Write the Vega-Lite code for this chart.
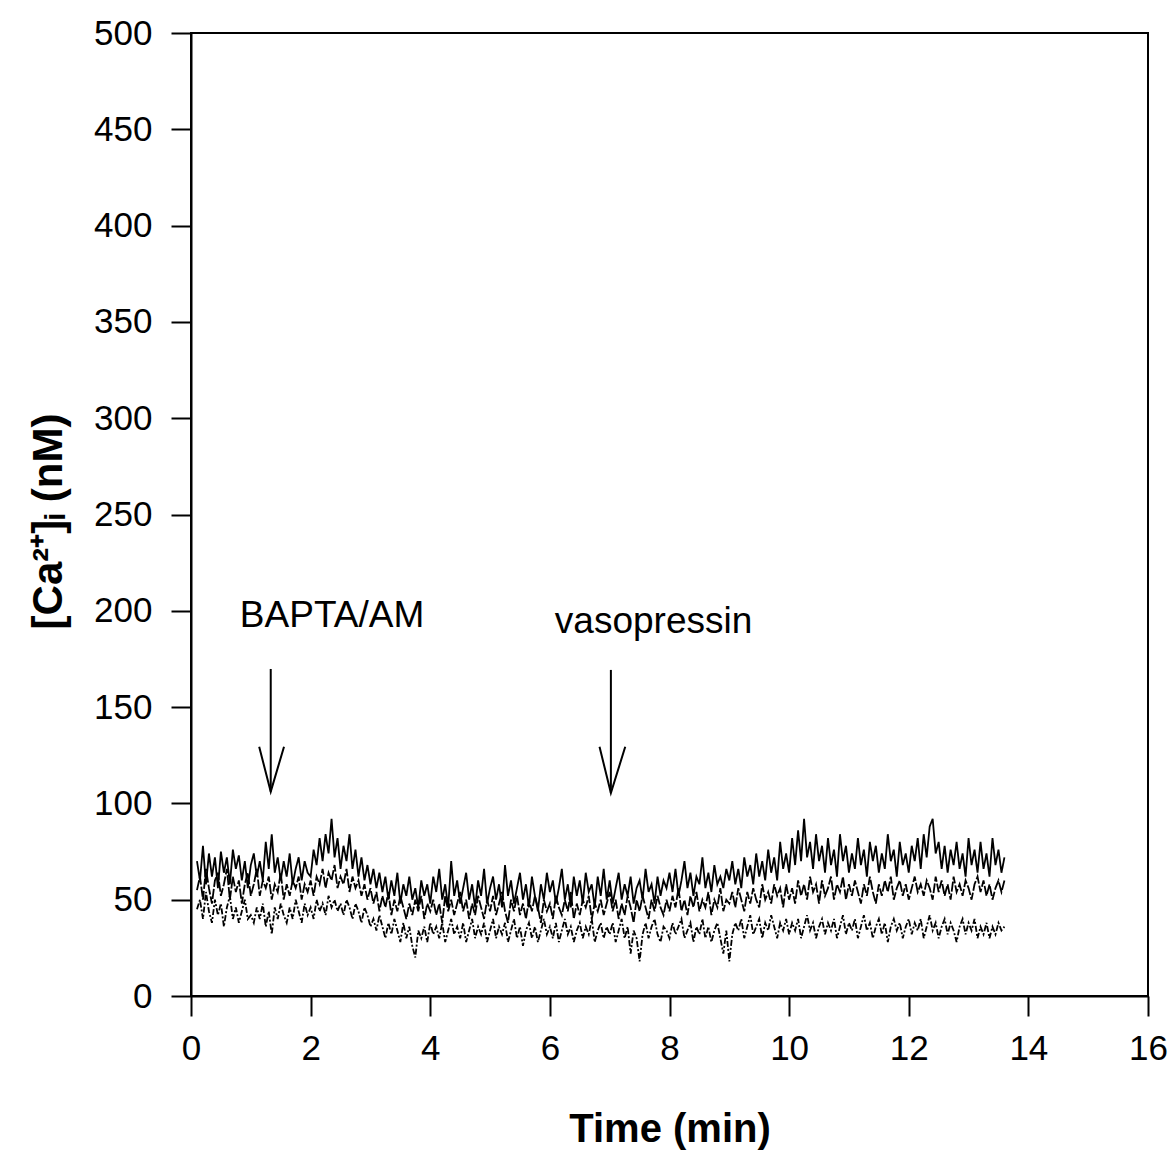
{
  "$schema": "https://vega.github.io/schema/vega-lite/v6.json",
  "width": 957,
  "height": 963,
  "autosize": {"type": "none"},
  "padding": {"left": 191, "top": 33, "right": 27, "bottom": 156},
  "background": "white",
  "config": {
    "view": {"stroke": "black", "strokeWidth": 2},
    "axis": {
      "grid": false,
      "domainColor": "black",
      "domainWidth": 2,
      "tickColor": "black",
      "tickWidth": 2,
      "tickSize": 20,
      "labelFont": "Liberation Sans",
      "labelFontSize": 35,
      "labelColor": "black",
      "labelFlush": false,
      "labelOverlap": false,
      "titleFont": "Liberation Sans",
      "titleFontSize": 40,
      "titleFontWeight": "bold",
      "titleColor": "black"
    }
  },
  "datasets": {
    "traces": [
      {"t":0.10,"a":70,"b":55,"c":45},{"t":0.15,"a":60,"b":62,"c":50},{"t":0.20,"a":78,"b":50,"c":40},{"t":0.25,"a":58,"b":66,"c":54},{"t":0.30,"a":74,"b":56,"c":44},
      {"t":0.35,"a":62,"b":48,"c":38},{"t":0.40,"a":72,"b":60,"c":50},{"t":0.45,"a":56,"b":64,"c":42},{"t":0.50,"a":75,"b":52,"c":48},{"t":0.55,"a":64,"b":58,"c":36},
      {"t":0.60,"a":72,"b":66,"c":46},{"t":0.65,"a":58,"b":50,"c":52},{"t":0.70,"a":76,"b":62,"c":40},{"t":0.75,"a":66,"b":54,"c":46},{"t":0.80,"a":73,"b":60,"c":38},
      {"t":0.85,"a":60,"b":48,"c":44},{"t":0.90,"a":70,"b":58,"c":50},{"t":0.95,"a":56,"b":64,"c":40},{"t":1.00,"a":68,"b":52,"c":42},{"t":1.05,"a":74,"b":58,"c":38},
      {"t":1.10,"a":62,"b":66,"c":46},{"t":1.15,"a":70,"b":52,"c":40},{"t":1.20,"a":60,"b":60,"c":48},{"t":1.25,"a":80,"b":56,"c":36},{"t":1.30,"a":66,"b":62,"c":44},
      {"t":1.35,"a":84,"b":50,"c":32},{"t":1.40,"a":64,"b":58,"c":46},{"t":1.45,"a":72,"b":54,"c":40},{"t":1.50,"a":60,"b":64,"c":48},{"t":1.55,"a":70,"b":50,"c":42},
      {"t":1.60,"a":62,"b":58,"c":38},{"t":1.65,"a":74,"b":52,"c":46},{"t":1.70,"a":58,"b":60,"c":40},{"t":1.75,"a":66,"b":56,"c":50},{"t":1.80,"a":72,"b":62,"c":44},
      {"t":1.85,"a":60,"b":50,"c":38},{"t":1.90,"a":70,"b":58,"c":48},{"t":1.95,"a":64,"b":54,"c":42},{"t":2.00,"a":62,"b":60,"c":46},{"t":2.05,"a":76,"b":52,"c":40},
      {"t":2.10,"a":68,"b":62,"c":50},{"t":2.15,"a":82,"b":58,"c":44},{"t":2.20,"a":70,"b":66,"c":48},{"t":2.25,"a":84,"b":56,"c":42},{"t":2.30,"a":74,"b":64,"c":52},
      {"t":2.35,"a":92,"b":60,"c":46},{"t":2.40,"a":72,"b":68,"c":50},{"t":2.45,"a":82,"b":56,"c":44},{"t":2.50,"a":66,"b":62,"c":48},{"t":2.55,"a":78,"b":58,"c":42},
      {"t":2.60,"a":70,"b":66,"c":50},{"t":2.65,"a":84,"b":54,"c":46},{"t":2.70,"a":66,"b":62,"c":40},{"t":2.75,"a":76,"b":56,"c":48},{"t":2.80,"a":62,"b":60,"c":44},
      {"t":2.85,"a":72,"b":52,"c":38},{"t":2.90,"a":60,"b":58,"c":46},{"t":2.95,"a":68,"b":50,"c":42},{"t":3.00,"a":58,"b":56,"c":36},{"t":3.05,"a":66,"b":48,"c":40},
      {"t":3.10,"a":56,"b":54,"c":34},{"t":3.15,"a":64,"b":44,"c":42},{"t":3.20,"a":54,"b":52,"c":36},{"t":3.25,"a":62,"b":46,"c":30},{"t":3.30,"a":50,"b":54,"c":38},
      {"t":3.35,"a":60,"b":42,"c":32},{"t":3.40,"a":52,"b":50,"c":40},{"t":3.45,"a":64,"b":44,"c":34},{"t":3.50,"a":48,"b":52,"c":28},{"t":3.55,"a":58,"b":46,"c":38},
      {"t":3.60,"a":52,"b":40,"c":30},{"t":3.65,"a":62,"b":48,"c":36},{"t":3.70,"a":50,"b":42,"c":26},{"t":3.75,"a":56,"b":50,"c":20},{"t":3.80,"a":46,"b":44,"c":34},
      {"t":3.85,"a":60,"b":52,"c":30},{"t":3.90,"a":52,"b":40,"c":36},{"t":3.95,"a":58,"b":48,"c":28},{"t":4.00,"a":48,"b":44,"c":38},{"t":4.05,"a":62,"b":50,"c":32},
      {"t":4.10,"a":54,"b":42,"c":36},{"t":4.15,"a":66,"b":48,"c":30},{"t":4.20,"a":50,"b":38,"c":38},{"t":4.25,"a":58,"b":52,"c":28},{"t":4.30,"a":46,"b":44,"c":34},
      {"t":4.35,"a":70,"b":50,"c":40},{"t":4.40,"a":52,"b":42,"c":32},{"t":4.45,"a":60,"b":48,"c":36},{"t":4.50,"a":48,"b":54,"c":30},{"t":4.55,"a":56,"b":44,"c":38},
      {"t":4.60,"a":64,"b":50,"c":28},{"t":4.65,"a":50,"b":40,"c":34},{"t":4.70,"a":58,"b":48,"c":40},{"t":4.75,"a":46,"b":42,"c":30},{"t":4.80,"a":60,"b":52,"c":36},
      {"t":4.85,"a":52,"b":46,"c":32},{"t":4.90,"a":66,"b":40,"c":38},{"t":4.95,"a":48,"b":50,"c":28},{"t":5.00,"a":56,"b":44,"c":34},{"t":5.05,"a":62,"b":52,"c":40},
      {"t":5.10,"a":50,"b":42,"c":30},{"t":5.15,"a":58,"b":48,"c":36},{"t":5.20,"a":46,"b":54,"c":32},{"t":5.25,"a":68,"b":44,"c":38},{"t":5.30,"a":52,"b":38,"c":28},
      {"t":5.35,"a":60,"b":50,"c":34},{"t":5.40,"a":48,"b":44,"c":40},{"t":5.45,"a":56,"b":52,"c":30},{"t":5.50,"a":64,"b":42,"c":36},{"t":5.55,"a":50,"b":48,"c":26},
      {"t":5.60,"a":58,"b":40,"c":34},{"t":5.65,"a":46,"b":50,"c":38},{"t":5.70,"a":62,"b":44,"c":30},{"t":5.75,"a":52,"b":52,"c":36},{"t":5.80,"a":44,"b":46,"c":28},
      {"t":5.85,"a":58,"b":38,"c":34},{"t":5.90,"a":50,"b":50,"c":40},{"t":5.95,"a":64,"b":44,"c":32},{"t":6.00,"a":54,"b":48,"c":36},{"t":6.05,"a":60,"b":40,"c":30},
      {"t":6.10,"a":48,"b":52,"c":38},{"t":6.15,"a":56,"b":46,"c":28},{"t":6.20,"a":66,"b":42,"c":34},{"t":6.25,"a":50,"b":50,"c":40},{"t":6.30,"a":58,"b":44,"c":32},
      {"t":6.35,"a":46,"b":54,"c":36},{"t":6.40,"a":62,"b":40,"c":28},{"t":6.45,"a":52,"b":48,"c":34},{"t":6.50,"a":60,"b":42,"c":38},{"t":6.55,"a":48,"b":50,"c":30},
      {"t":6.60,"a":64,"b":46,"c":36},{"t":6.65,"a":54,"b":52,"c":32},{"t":6.70,"a":58,"b":40,"c":40},{"t":6.75,"a":46,"b":48,"c":28},{"t":6.80,"a":62,"b":44,"c":34},
      {"t":6.85,"a":52,"b":50,"c":38},{"t":6.90,"a":66,"b":42,"c":30},{"t":6.95,"a":50,"b":48,"c":36},{"t":7.00,"a":60,"b":54,"c":32},{"t":7.05,"a":48,"b":44,"c":38},
      {"t":7.10,"a":56,"b":50,"c":28},{"t":7.15,"a":64,"b":40,"c":34},{"t":7.20,"a":50,"b":48,"c":40},{"t":7.25,"a":58,"b":42,"c":30},{"t":7.30,"a":52,"b":52,"c":36},
      {"t":7.35,"a":62,"b":46,"c":22},{"t":7.40,"a":48,"b":38,"c":34},{"t":7.45,"a":56,"b":50,"c":30},{"t":7.50,"a":60,"b":44,"c":18},{"t":7.55,"a":50,"b":52,"c":32},
      {"t":7.60,"a":66,"b":46,"c":38},{"t":7.65,"a":54,"b":40,"c":30},{"t":7.70,"a":58,"b":50,"c":36},{"t":7.75,"a":48,"b":44,"c":40},{"t":7.80,"a":62,"b":52,"c":32},
      {"t":7.85,"a":52,"b":46,"c":28},{"t":7.90,"a":60,"b":42,"c":36},{"t":7.95,"a":56,"b":50,"c":34},{"t":8.00,"a":64,"b":44,"c":30},{"t":8.05,"a":54,"b":52,"c":38},
      {"t":8.10,"a":66,"b":46,"c":32},{"t":8.15,"a":52,"b":56,"c":36},{"t":8.20,"a":60,"b":44,"c":40},{"t":8.25,"a":70,"b":50,"c":30},{"t":8.30,"a":56,"b":42,"c":34},
      {"t":8.35,"a":64,"b":52,"c":38},{"t":8.40,"a":52,"b":46,"c":28},{"t":8.45,"a":62,"b":54,"c":36},{"t":8.50,"a":58,"b":44,"c":32},{"t":8.55,"a":72,"b":50,"c":40},
      {"t":8.60,"a":56,"b":46,"c":30},{"t":8.65,"a":64,"b":54,"c":36},{"t":8.70,"a":54,"b":42,"c":28},{"t":8.75,"a":68,"b":50,"c":34},{"t":8.80,"a":58,"b":46,"c":38},
      {"t":8.85,"a":62,"b":56,"c":30},{"t":8.90,"a":56,"b":44,"c":22},{"t":8.95,"a":66,"b":50,"c":34},{"t":9.00,"a":60,"b":48,"c":18},{"t":9.05,"a":70,"b":54,"c":32},
      {"t":9.10,"a":58,"b":46,"c":38},{"t":9.15,"a":66,"b":56,"c":34},{"t":9.20,"a":56,"b":50,"c":40},{"t":9.25,"a":72,"b":44,"c":30},{"t":9.30,"a":62,"b":54,"c":36},
      {"t":9.35,"a":68,"b":48,"c":42},{"t":9.40,"a":58,"b":56,"c":32},{"t":9.45,"a":74,"b":50,"c":36},{"t":9.50,"a":62,"b":46,"c":40},{"t":9.55,"a":70,"b":58,"c":30},
      {"t":9.60,"a":60,"b":50,"c":38},{"t":9.65,"a":76,"b":54,"c":34},{"t":9.70,"a":64,"b":48,"c":42},{"t":9.75,"a":72,"b":58,"c":36},{"t":9.80,"a":60,"b":52,"c":30},
      {"t":9.85,"a":80,"b":56,"c":38},{"t":9.90,"a":66,"b":46,"c":34},{"t":9.95,"a":74,"b":58,"c":40},{"t":10.00,"a":64,"b":50,"c":32},{"t":10.05,"a":82,"b":56,"c":38},
      {"t":10.10,"a":68,"b":48,"c":34},{"t":10.15,"a":86,"b":60,"c":40},{"t":10.20,"a":70,"b":52,"c":30},{"t":10.25,"a":92,"b":58,"c":36},{"t":10.30,"a":72,"b":50,"c":42},
      {"t":10.35,"a":80,"b":62,"c":34},{"t":10.40,"a":66,"b":54,"c":38},{"t":10.45,"a":84,"b":58,"c":30},{"t":10.50,"a":70,"b":48,"c":36},{"t":10.55,"a":78,"b":60,"c":40},
      {"t":10.60,"a":64,"b":52,"c":32},{"t":10.65,"a":82,"b":56,"c":38},{"t":10.70,"a":68,"b":62,"c":34},{"t":10.75,"a":76,"b":50,"c":40},{"t":10.80,"a":62,"b":58,"c":30},
      {"t":10.85,"a":84,"b":54,"c":36},{"t":10.90,"a":70,"b":62,"c":42},{"t":10.95,"a":78,"b":50,"c":32},{"t":11.00,"a":64,"b":58,"c":38},{"t":11.05,"a":74,"b":52,"c":34},
      {"t":11.10,"a":66,"b":60,"c":40},{"t":11.15,"a":82,"b":54,"c":30},{"t":11.20,"a":68,"b":48,"c":36},{"t":11.25,"a":76,"b":58,"c":42},{"t":11.30,"a":62,"b":52,"c":34},
      {"t":11.35,"a":80,"b":62,"c":38},{"t":11.40,"a":70,"b":54,"c":30},{"t":11.45,"a":78,"b":48,"c":36},{"t":11.50,"a":64,"b":58,"c":40},{"t":11.55,"a":74,"b":52,"c":32},
      {"t":11.60,"a":66,"b":60,"c":38},{"t":11.65,"a":84,"b":54,"c":28},{"t":11.70,"a":70,"b":62,"c":36},{"t":11.75,"a":76,"b":50,"c":40},{"t":11.80,"a":62,"b":56,"c":34},
      {"t":11.85,"a":80,"b":60,"c":38},{"t":11.90,"a":68,"b":52,"c":30},{"t":11.95,"a":74,"b":58,"c":36},{"t":12.00,"a":64,"b":50,"c":40},{"t":12.05,"a":78,"b":56,"c":32},
      {"t":12.10,"a":70,"b":62,"c":38},{"t":12.15,"a":82,"b":54,"c":34},{"t":12.20,"a":66,"b":58,"c":40},{"t":12.25,"a":84,"b":52,"c":30},{"t":12.30,"a":72,"b":60,"c":36},
      {"t":12.35,"a":88,"b":56,"c":42},{"t":12.40,"a":92,"b":50,"c":34},{"t":12.45,"a":74,"b":62,"c":38},{"t":12.50,"a":80,"b":54,"c":30},{"t":12.55,"a":66,"b":60,"c":36},
      {"t":12.60,"a":78,"b":52,"c":40},{"t":12.65,"a":64,"b":58,"c":32},{"t":12.70,"a":76,"b":50,"c":38},{"t":12.75,"a":68,"b":62,"c":34},{"t":12.80,"a":80,"b":54,"c":28},
      {"t":12.85,"a":66,"b":58,"c":36},{"t":12.90,"a":74,"b":52,"c":40},{"t":12.95,"a":62,"b":60,"c":32},{"t":13.00,"a":82,"b":56,"c":38},{"t":13.05,"a":68,"b":50,"c":34},
      {"t":13.10,"a":76,"b":58,"c":40},{"t":13.15,"a":64,"b":62,"c":30},{"t":13.20,"a":80,"b":54,"c":36},{"t":13.25,"a":66,"b":60,"c":32},{"t":13.30,"a":74,"b":52,"c":38},
      {"t":13.35,"a":62,"b":58,"c":30},{"t":13.40,"a":82,"b":50,"c":36},{"t":13.45,"a":68,"b":56,"c":32},{"t":13.50,"a":76,"b":60,"c":38},{"t":13.55,"a":64,"b":54,"c":34},
      {"t":13.60,"a":72,"b":60,"c":36}
    ],
    "shafts": [
      {"t":1.333,"top":169.8,"tip":106.1},
      {"t":7.02,"top":169.3,"tip":105.4}
    ],
    "heads": [
      {"arrow":"bapta","order":1,"t":1.14,"v":129.4},
      {"arrow":"bapta","order":2,"t":1.333,"v":106.1},
      {"arrow":"bapta","order":3,"t":1.555,"v":129.4},
      {"arrow":"vaso","order":1,"t":6.83,"v":129.4},
      {"arrow":"vaso","order":2,"t":7.02,"v":105.4},
      {"arrow":"vaso","order":3,"t":7.26,"v":129.4}
    ],
    "labels": [
      {"t":2.358,"v":191.6,"label":"BAPTA/AM"},
      {"t":7.734,"v":188.5,"label":"vasopressin"}
    ]
  },
  "layer": [
    {
      "data": {"name": "traces"},
      "transform": [{"fold": ["a", "b", "c"], "as": ["series", "ca"]}],
      "mark": {"type": "line", "color": "black", "strokeWidth": 1.8, "clip": true},
      "encoding": {
        "x": {"field": "t", "type": "quantitative", "scale": {"domain": [0, 16], "nice": false},
              "axis": {"values": [0,2,4,6,8,10,12,14,16], "format": "d", "labelPadding": 15, "title": "Time (min)", "titleBaseline": "alphabetic", "titleY": 145}},
        "y": {"field": "ca", "type": "quantitative", "scale": {"domain": [0, 500], "nice": false},
              "axis": {"values": [0,50,100,150,200,250,300,350,400,450,500], "format": "d", "labelPadding": 19, "title": "[Ca²⁺]ᵢ (nM)", "titleFontSize": 42, "titleAngle": -90, "titleBaseline": "alphabetic", "titleAlign": "center", "titleX": -130, "titleY": 488}},
        "detail": {"field": "series"},
        "strokeDash": {"field": "series", "type": "nominal", "scale": {"domain": ["a", "b", "c"], "range": [[1, 0], [10, 2], [6, 2, 2, 2]]}, "legend": null}
      }
    },
    {
      "data": {"name": "shafts"},
      "mark": {"type": "rule", "color": "black", "strokeWidth": 2},
      "encoding": {
        "x": {"field": "t", "type": "quantitative"},
        "y": {"field": "top", "type": "quantitative"},
        "y2": {"field": "tip"}
      }
    },
    {
      "data": {"name": "heads"},
      "mark": {"type": "line", "color": "black", "strokeWidth": 2},
      "encoding": {
        "x": {"field": "t", "type": "quantitative"},
        "y": {"field": "v", "type": "quantitative"},
        "detail": {"field": "arrow"},
        "order": {"field": "order"}
      }
    },
    {
      "data": {"name": "labels"},
      "mark": {"type": "text", "font": "Liberation Sans", "fontSize": 37, "color": "black", "align": "center", "baseline": "alphabetic"},
      "encoding": {
        "x": {"field": "t", "type": "quantitative"},
        "y": {"field": "v", "type": "quantitative"},
        "text": {"field": "label"}
      }
    }
  ]
}
